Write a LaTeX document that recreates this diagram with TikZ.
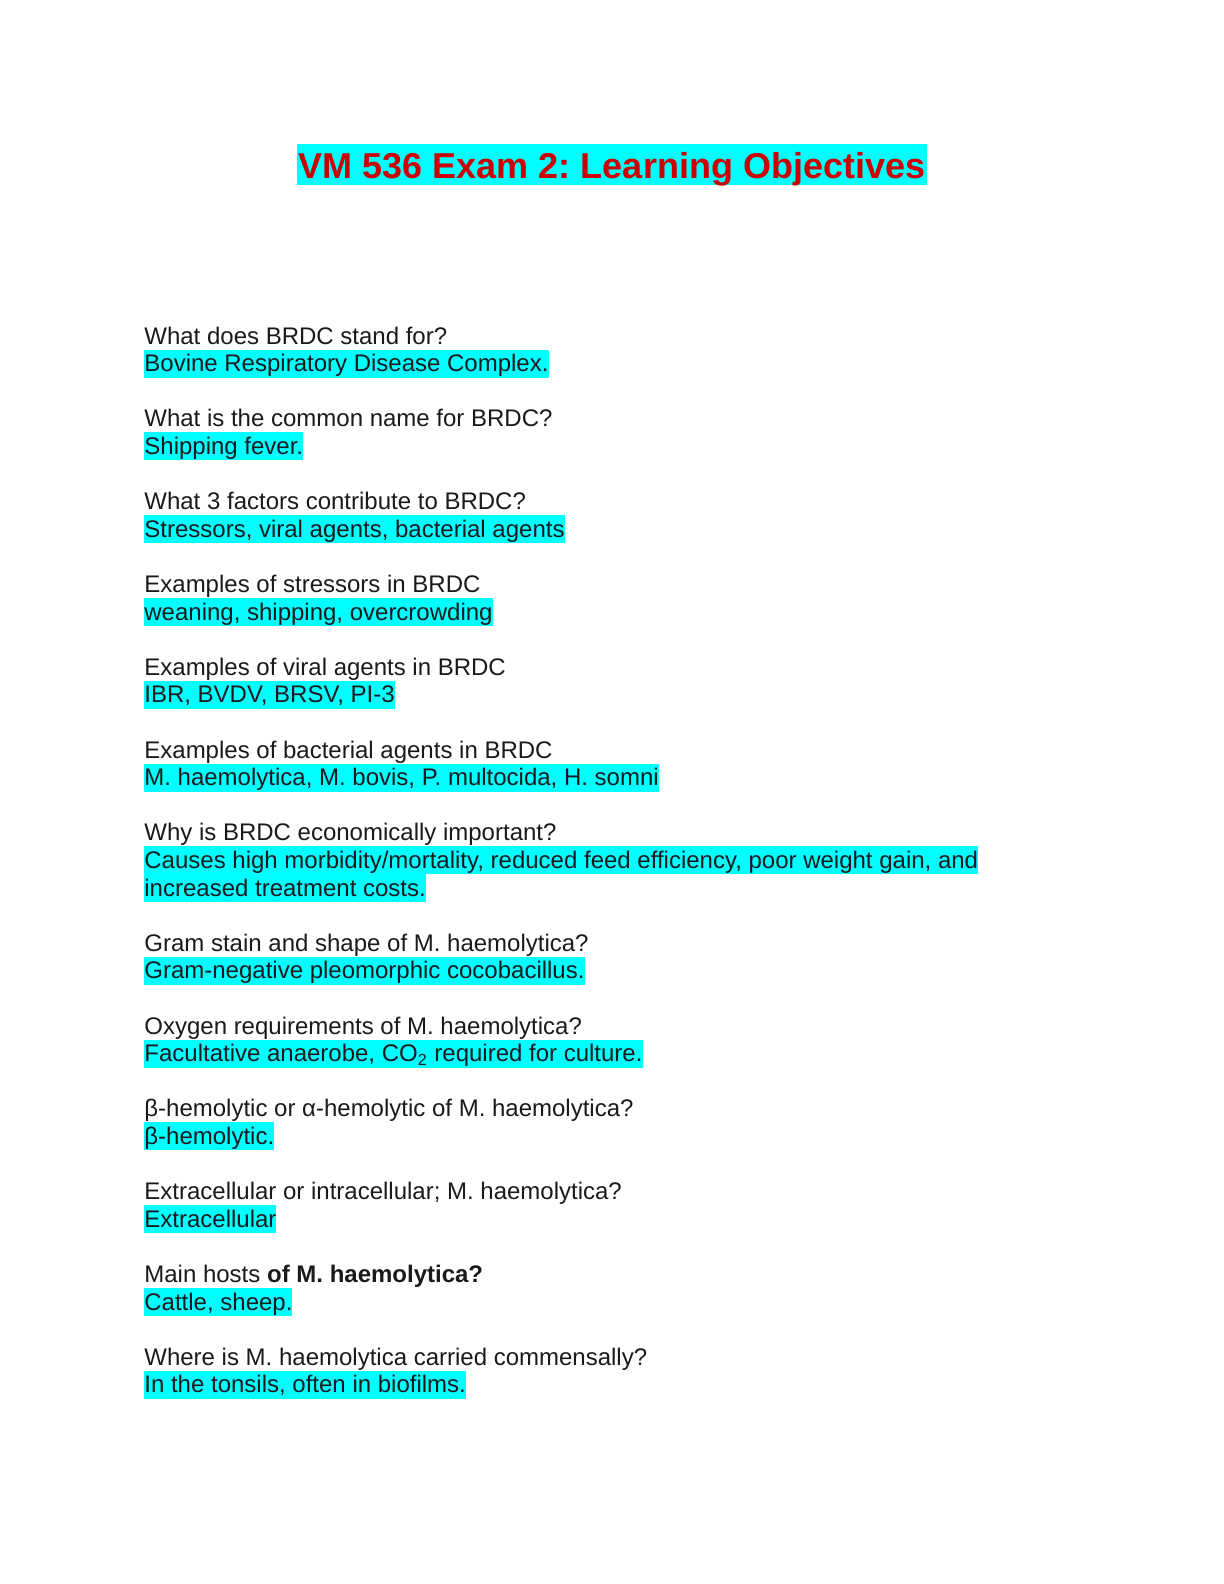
\documentclass[tikz,border=0pt]{standalone}
\usepackage{fontspec}
\setmainfont{Liberation Sans}
\frenchspacing
\definecolor{hl}{RGB}{0,255,255}
\definecolor{titlered}{RGB}{204,0,0}
\definecolor{ink}{RGB}{26,26,30}

\begin{document}
\begin{tikzpicture}[x=1pt, y=-1pt,
		every node/.style={anchor=base west, inner sep=0pt, text=ink, font=\fontsize{12}{13.8}\selectfont},
		ques/.style={},
		ans/.style={fill=hl, text height=11pt, text depth=3pt}]
		\useasboundingbox (0,0) rectangle (612,792);
		\node[anchor=base, fill=hl, inner xsep=0.8pt, text=titlered, text height=17pt, text depth=3.5pt, font=\fontsize{18}{20.7}\selectfont\bfseries] (title) at (306,89) {VM 536 Exam 2: Learning Objectives};
		\node[ques] (q1) at (72,172) {What does BRDC stand for?};
		\node[ans] (a1) at (72,185.8) {Bovine Respiratory Disease Complex.};
		\node[ques] (q2) at (72,213.4) {What is the common name for BRDC?};
		\node[ans] (a2) at (72,227.2) {Shipping fever.};
		\node[ques] (q3) at (72,254.8) {What 3 factors contribute to BRDC?};
		\node[ans] (a3) at (72,268.6) {Stressors, viral agents, bacterial agents};
		\node[ques] (q4) at (72,296.2) {Examples of stressors in BRDC};
		\node[ans] (a4) at (72,310) {weaning, shipping, overcrowding};
		\node[ques] (q5) at (72,337.6) {Examples of viral agents in BRDC};
		\node[ans] (a5) at (72,351.4) {IBR, BVDV, BRSV, PI-3};
		\node[ques] (q6) at (72,379) {Examples of bacterial agents in BRDC};
		\node[ans] (a6) at (72,392.8) {M. haemolytica, M. bovis, P. multocida, H. somni};
		\node[ques] (q7) at (72,420.4) {Why is BRDC economically important?};
		\node[ans] (a7) at (72,434.2) {Causes high morbidity/mortality, reduced feed efficiency, poor weight gain, and};
		\node[ans] (a7b) at (72,448) {increased treatment costs.};
		\node[ques] (q8) at (72,475.6) {Gram stain and shape of M. haemolytica?};
		\node[ans] (a8) at (72,489.4) {Gram-negative pleomorphic cocobacillus.};
		\node[ques] (q9) at (72,517) {Oxygen requirements of M. haemolytica?};
		\node[ans] (a9) at (72,530.8) {Facultative anaerobe, CO\textsubscript{2} required for culture.};
		\node[ques] (q10) at (72,558.4) {β-hemolytic or α-hemolytic of M. haemolytica?};
		\node[ans] (a10) at (72,572.2) {β-hemolytic.};
		\node[ques] (q11) at (72,599.8) {Extracellular or intracellular; M. haemolytica?};
		\node[ans] (a11) at (72,613.6) {Extracellular};
		\node[ques] (q12) at (72,641.2) {Main hosts \textbf{of M. haemolytica?}};
		\node[ans] (a12) at (72,655) {Cattle, sheep.};
		\node[ques] (q13) at (72,682.6) {Where is M. haemolytica carried commensally?};
		\node[ans] (a13) at (72,696.4) {In the tonsils, often in biofilms.};
	\end{tikzpicture}
\end{document}
